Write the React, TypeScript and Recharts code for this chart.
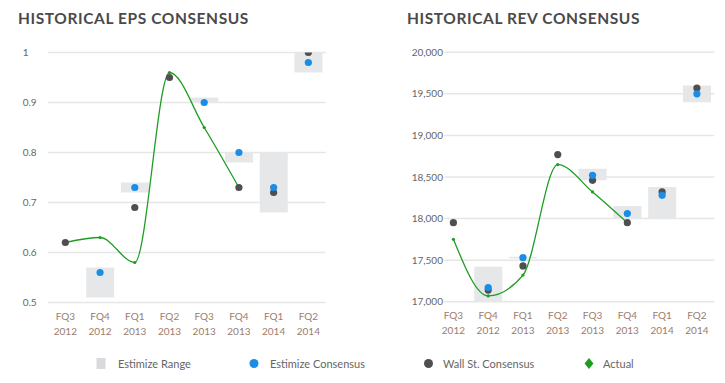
import React from 'react';
import { ComposedChart, Bar, Line, XAxis, YAxis, CartesianGrid } from 'recharts';

const quarters = ['FQ3', 'FQ4', 'FQ1', 'FQ2', 'FQ3', 'FQ4', 'FQ1', 'FQ2'];
const years = ['2012', '2012', '2013', '2013', '2013', '2013', '2014', '2014'];

const epsRangeLow = [null, 0.51, 0.72, null, 0.9, 0.78, 0.68, 0.96];
const epsRangeHigh = [null, 0.57, 0.74, null, 0.91, 0.8, 0.8, 1.0];
const epsEstimize = [null, 0.56, 0.73, null, 0.9, 0.8, 0.73, 0.98];
const epsWallSt = [0.62, null, 0.69, 0.95, null, 0.73, 0.72, 1.0];
const epsActual = [0.62, 0.63, 0.58, 0.96, 0.85, 0.73, null, null];
const epsTicks = [0.5, 0.6, 0.7, 0.8, 0.9, 1];

const revRangeLow = [null, 17000, 17520, null, 18460, 18000, 18000, 19400];
const revRangeHigh = [null, 17420, 17540, null, 18600, 18150, 18380, 19600];
const revEstimize = [null, 17170, 17530, null, 18520, 18060, 18280, 19500];
const revWallSt = [17950, 17140, 17430, 18770, 18460, 17950, 18320, 19570];
const revActual = [17750, 17070, 17320, 18650, 18320, 17950, null, null];
const revTicks = [17000, 17500, 18000, 18500, 19000, 19500, 20000];

const legendLabels = ['Estimize Range', 'Estimize Consensus', 'Wall St. Consensus', 'Actual'];

const FONT = 'Lato, "Open Sans", sans-serif';
const GREEN = '#1c9e22';
const BLUE = '#1a8de6';
const DARK = '#4f4f4f';
const RANGE = '#e6e7e9';
const GRID = '#e6e6e6';
const XLABEL = '#9c7c6c';
const YLABEL = '#666666';

type Num = number | null;

function buildData(low: Num[], high: Num[], est: Num[], wall: Num[], actual: Num[]) {
  return quarters.map((q, i) => ({
    cat: `${q} ${years[i]}`,
    q,
    yr: years[i],
    range: low[i] != null && high[i] != null ? [low[i], high[i]] : null,
    estimize: est[i],
    wallSt: wall[i],
    actual: actual[i],
  }));
}

const epsData = buildData(epsRangeLow, epsRangeHigh, epsEstimize, epsWallSt, epsActual);
const revData = buildData(revRangeLow, revRangeHigh, revEstimize, revWallSt, revActual);

const makeXTick = (baseY: number) => (props: any) => {
  const { x, payload } = props;
  const d = (payload && payload.value ? String(payload.value) : '').split(' ');
  return (
    <text textAnchor="middle" fontSize={10} fill={XLABEL} fontFamily={FONT}>
      <tspan x={x} y={baseY + 17.5}>{d[0]}</tspan>
      <tspan x={x} y={baseY + 32}>{d[1]}</tspan>
    </text>
  );
};

const makeYTick = (labelX: number, fmt: (v: number) => string, halo: boolean) => (props: any) => {
  const { y, payload } = props;
  return (
    <text
      x={labelX}
      y={y}
      dy={3.6}
      textAnchor="start"
      fontSize={10}
      fill={YLABEL}
      fontFamily={FONT}
      stroke={halo ? '#ffffff' : 'none'}
      strokeWidth={halo ? 3 : 0}
      paintOrder="stroke"
    >
      {fmt(payload.value)}
    </text>
  );
};

function ConsensusChart(props: {
  data: any[];
  width: number;
  height: number;
  plotLeft: number;
  plotRight: number;
  plotTop: number;
  plotBottom: number;
  domain: [number, number];
  ticks: number[];
  labelX: number;
  fmt: (v: number) => string;
  halo: boolean;
}) {
  const { data, width, height, plotLeft, plotRight, plotTop, plotBottom, domain, ticks, labelX, fmt, halo } = props;
  return (
    <ComposedChart
      width={width}
      height={height}
      data={data}
      margin={{ top: plotTop, right: width - plotRight, bottom: 0, left: 0 }}
      barCategoryGap="10%"
    >
      <CartesianGrid vertical={false} stroke={GRID} strokeWidth={1.5} />
      <XAxis
        dataKey="cat"
        axisLine={false}
        tickLine={false}
        interval={0}
        height={height - plotBottom}
        tick={makeXTick(plotBottom)}
      />
      <YAxis
        type="number"
        domain={domain}
        ticks={ticks}
        allowDataOverflow
        axisLine={false}
        tickLine={false}
        width={plotLeft}
        tick={makeYTick(labelX, fmt, halo)}
      />
      <Bar dataKey="range" fill={RANGE} isAnimationActive={false} />
      <Line
        type="monotone"
        dataKey="actual"
        stroke={GREEN}
        strokeWidth={1.3}
        dot={{ r: 1.6, fill: GREEN, stroke: 'none' }}
        activeDot={false}
        isAnimationActive={false}
      />
      <Line
        dataKey="wallSt"
        stroke="none"
        dot={{ r: 3.6, fill: DARK, stroke: 'none' }}
        activeDot={false}
        isAnimationActive={false}
      />
      <Line
        dataKey="estimize"
        stroke="none"
        dot={{ r: 3.6, fill: BLUE, stroke: 'none' }}
        activeDot={false}
        isAnimationActive={false}
      />
    </ComposedChart>
  );
}

export default function App() {
  return (
    <div style={{ position: 'absolute', left: 0, top: 0, width: 725, height: 383, background: '#fff' }}>
      <svg width={725} height={383} style={{ position: 'absolute', left: 0, top: 0 }}>
        <text x={18} y={23.5} fontFamily={FONT} fontWeight={700} fontSize={15.5} letterSpacing={0.6} fill="#4a4a4a">
          HISTORICAL EPS CONSENSUS
        </text>
        <text x={407} y={23.5} fontFamily={FONT} fontWeight={700} fontSize={15.5} letterSpacing={0.6} fill="#4a4a4a">
          HISTORICAL REV CONSENSUS
        </text>
        <rect x={96.5} y={358} width={9} height={11} fill="#d9dadd" />
        <text x={118} y={367.5} fontFamily={FONT} fontSize={11} fill={YLABEL}>{legendLabels[0]}</text>
        <circle cx={254} cy={363.5} r={4.5} fill={BLUE} />
        <text x={270} y={367.5} fontFamily={FONT} fontSize={11} fill={YLABEL}>{legendLabels[1]}</text>
        <circle cx={428.5} cy={363.5} r={4.5} fill={DARK} />
        <text x={443} y={367.5} fontFamily={FONT} fontSize={11} fill={YLABEL}>{legendLabels[2]}</text>
        <path d="M589 358 L593.5 363.5 L589 369 L584.5 363.5 Z" fill={GREEN} />
        <text x={603} y={367.5} fontFamily={FONT} fontSize={11} fill={YLABEL}>{legendLabels[3]}</text>
      </svg>
      <div style={{ position: 'absolute', left: 0, top: 0 }}>
        <ConsensusChart
          data={epsData}
          width={350}
          height={340}
          plotLeft={48}
          plotRight={325.7}
          plotTop={52.5}
          plotBottom={302.5}
          domain={[0.5, 1]}
          ticks={epsTicks}
          labelX={22.7}
          fmt={(v) => String(v)}
          halo={false}
        />
      </div>
      <div style={{ position: 'absolute', left: 362, top: 0 }}>
        <ConsensusChart
          data={revData}
          width={363}
          height={340}
          plotLeft={74}
          plotRight={352.3}
          plotTop={52.3}
          plotBottom={301.7}
          domain={[17000, 20000]}
          ticks={revTicks}
          labelX={49.7}
          fmt={(v) => v.toLocaleString('en-US')}
          halo={true}
        />
      </div>
    </div>
  );
}
